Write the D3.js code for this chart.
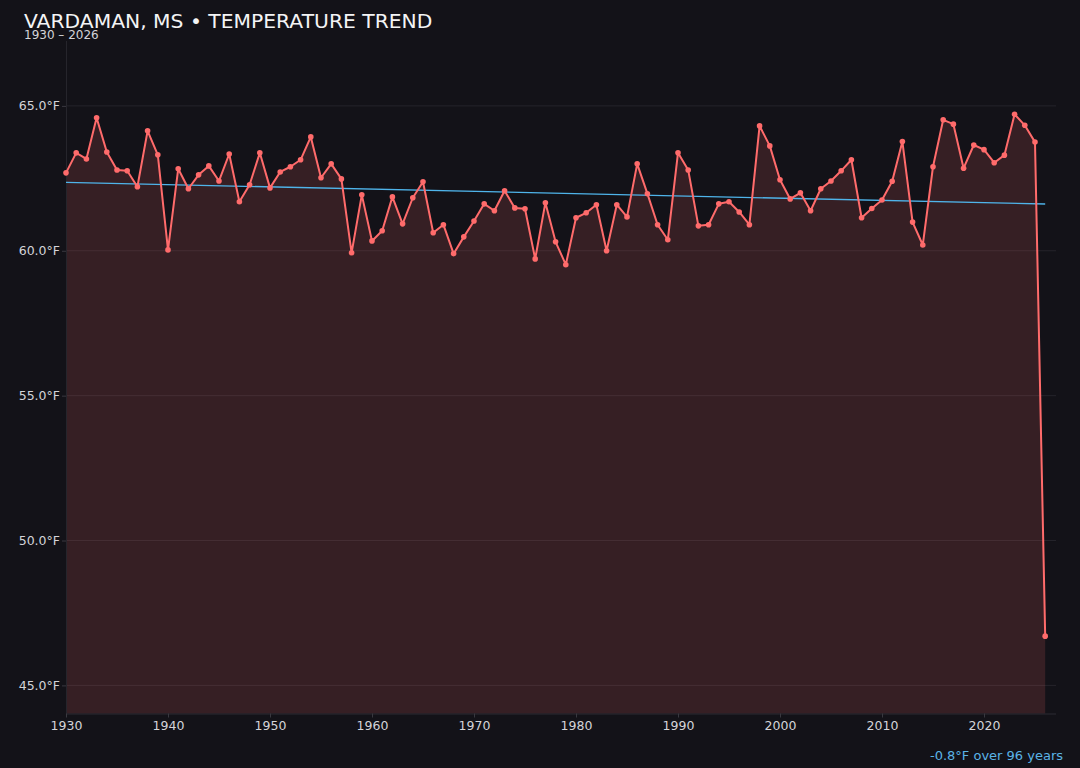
<!DOCTYPE html>
<html lang="en">
<head>
<meta charset="UTF-8">
<title>Vardaman, MS temperature trend</title>
<script src="https://d3js.org/d3.v7.min.js"></script>
<style>
  html, body { margin: 0; padding: 0; background: #131218; }
  svg { display: block; font-family: "DejaVu Sans", sans-serif; }
</style>
</head>
<body>
<div id="figure"></div>
<script>
    // annual mean temperature (°F)
    const years = d3.range(1930, 2027);
    const temps = [
        62.69, 63.38, 63.17, 64.59, 63.41, 62.79, 62.76, 62.21, 64.14, 63.31,
        60.03, 62.83, 62.14, 62.62, 62.93, 62.41, 63.34, 61.69, 62.28, 63.38,
        62.17, 62.72, 62.90, 63.14, 63.93, 62.52, 63.00, 62.48, 59.93, 61.93,
        60.34, 60.69, 61.86, 60.93, 61.83, 62.38, 60.62, 60.90, 59.90, 60.48,
        61.03, 61.62, 61.38, 62.07, 61.48, 61.45, 59.72, 61.66, 60.31, 59.52,
        61.14, 61.31, 61.59, 60.00, 61.59, 61.17, 63.00, 61.97, 60.90, 60.38,
        63.38, 62.79, 60.86, 60.90, 61.62, 61.69, 61.34, 60.90, 64.31, 63.62,
        62.45, 61.79, 62.00, 61.38, 62.14, 62.41, 62.76, 63.14, 61.14, 61.46,
        61.75, 62.40, 63.77, 60.99, 60.20, 62.90, 64.52, 64.37, 62.85, 63.65,
        63.49, 63.04, 63.30, 64.71, 64.33, 63.75, 46.70
    ];
    const yTicks = [45, 50, 55, 60, 65];
    const xTicks = [1930, 1940, 1950, 1960, 1970, 1980, 1990, 2000, 2010, 2020];
    const trendNote = '-0.8°F over 96 years';

    const W = 1080, H = 768;
    const m = {left: 66, right: 1056, top: 41, bottom: 713.5};

    const data = years.map((y, i) => ({year: y, t: temps[i]}));

    const svg = d3.select('#figure').append('svg')
        .attr('width', W)
        .attr('height', H);
    svg.append('rect').attr('width', W).attr('height', H).attr('fill', '#131218');

    const x = d3.scaleLinear().domain([1930, 2027.06]).range([m.left, m.right]);
    const y = d3.scaleLinear().domain([44.03, 67.24]).range([m.bottom, m.top]);

    // grid
    svg.append('g').selectAll('line')
        .data(yTicks)
        .join('line')
        .attr('x1', m.left).attr('x2', m.right)
        .attr('y1', d => y(d)).attr('y2', d => y(d))
        .attr('stroke', '#25242b')
        .attr('stroke-width', 1);

    // area under line
    const area = d3.area()
        .x(d => x(d.year))
        .y0(m.bottom)
        .y1(d => y(d.t));
    svg.append('path')
        .datum(data)
        .attr('d', area)
        .attr('fill', '#ff6b6b')
        .attr('fill-opacity', 0.15);

    // axes
    const yAxis = svg.append('g')
        .attr('transform', `translate(${m.left},0)`)
        .call(d3.axisLeft(y).tickValues(yTicks).tickSize(4).tickFormat(d => d.toFixed(1) + '°F'));
    const xAxis = svg.append('g')
        .attr('transform', `translate(0,${m.bottom})`)
        .call(d3.axisBottom(x).tickValues(xTicks).tickSize(4).tickFormat(d3.format('d')));
    yAxis.select('.domain').attr('stroke', '#26252c').attr('d', `M0.5,${m.top}V${m.bottom}`);
    xAxis.select('.domain').attr('stroke', '#2c2b33').attr('d', `M${m.left},0.5H${m.right}`);
    [yAxis, xAxis].forEach(g => {
        g.selectAll('.tick line').attr('stroke', '#3a3940');
        g.selectAll('.tick text')
            .attr('fill', '#d4d4d8')
            .attr('font-size', 12.5)
            .attr('font-family', '"DejaVu Sans", sans-serif');
    });
    yAxis.selectAll('.tick text').attr('x', -6);
    xAxis.selectAll('.tick text').attr('y', 8);

    // linear trend (least squares over the series)
    const xm = d3.mean(years), tm = d3.mean(temps);
    const slope = d3.sum(data, d => (d.year - xm) * (d.t - tm)) / d3.sum(years, v => (v - xm) ** 2);
    const fit = v => tm + slope * (v - xm);
    const x0 = years[0], x1 = years[years.length - 1];
    svg.append('line')
        .attr('x1', x(x0)).attr('y1', y(fit(x0)))
        .attr('x2', x(x1)).attr('y2', y(fit(x1)))
        .attr('stroke', '#4fb4ea')
        .attr('stroke-width', 1.3);

    // series
    const line = d3.line().x(d => x(d.year)).y(d => y(d.t));
    svg.append('path')
        .datum(data)
        .attr('d', line)
        .attr('fill', 'none')
        .attr('stroke', '#ff6b6b')
        .attr('stroke-width', 2)
        .attr('stroke-linejoin', 'round');
    svg.append('g').selectAll('circle')
        .data(data)
        .join('circle')
        .attr('cx', d => x(d.year))
        .attr('cy', d => y(d.t))
        .attr('r', 2.8)
        .attr('fill', '#ff6b6b');

    // titles
    svg.append('text')
        .attr('x', 24).attr('y', 28)
        .attr('fill', '#f4f4f5')
        .attr('font-size', 20.3)
        .text('VARDAMAN, MS • TEMPERATURE TREND');
    svg.append('text')
        .attr('x', 24).attr('y', 39)
        .attr('fill', '#d4d4d8')
        .attr('font-size', 12)
        .text(`${x0} – ${x1}`);

    svg.append('text')
        .attr('x', 1063).attr('y', 760)
        .attr('text-anchor', 'end')
        .attr('fill', '#5bb4e6')
        .attr('font-size', 13)
        .text(trendNote);
</script>
</body>
</html>
